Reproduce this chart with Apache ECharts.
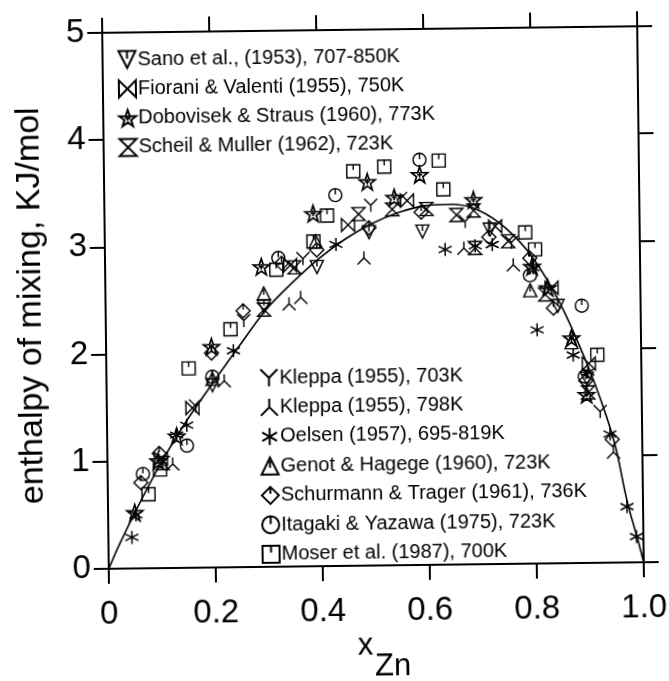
<!DOCTYPE html>
<html>
<head>
<meta charset="utf-8">
<title>Enthalpy of mixing</title>
<script src="https://cdn.jsdelivr.net/npm/echarts@6/dist/echarts.min.js"></script>
<style>
  html, body { margin: 0; padding: 0; background: #fff; }
  #chart { width: 669px; height: 681px; transform: rotate(-0.7deg); }
</style>
</head>
<body>
<div id="chart"></div>
<script>
// Axis ticks
const xTicks = [0, 0.2, 0.4, 0.6, 0.8, 1.0];
const xTickLabels = ['0', '0.2', '0.4', '0.6', '0.8', '1.0'];
const yTickLabels = ['0', '1', '2', '3', '4', '5'];

// Assessed curve [x_Zn, kJ/mol]
const curve = [
  [0, 0], [0.02, 0.22], [0.05, 0.52], [0.1, 0.98], [0.15, 1.38], [0.2, 1.73],
  [0.25, 2.07], [0.3, 2.4], [0.35, 2.65], [0.4, 2.87], [0.45, 3.05], [0.5, 3.19],
  [0.55, 3.29], [0.6, 3.35], [0.65, 3.36], [0.7, 3.3], [0.75, 3.13], [0.8, 2.85],
  [0.85, 2.42], [0.9, 1.84], [0.93, 1.42], [0.95, 1.08], [0.97, 0.58], [0.99, 0.2], [1.0, 0]
];

// Measurements, one array per source
const sano = [[0.198,1.70],[0.296,2.43],[0.396,2.79],[0.494,3.11],[0.594,3.11],[0.72,3.12],[0.845,2.40],[0.898,1.72]];
const fiorani = [[0.1,1.02],[0.16,1.49],[0.346,2.81],[0.455,3.18],[0.566,3.40],[0.73,3.15],[0.834,2.57],[0.902,1.86]];
const dobovisek = [[0.05,0.52],[0.095,1.0],[0.13,1.23],[0.197,2.06],[0.292,2.80],[0.39,3.29],[0.492,3.58],[0.542,3.43],[0.59,3.64],[0.69,3.40],[0.798,2.77],[0.827,2.57],[0.87,2.10],[0.897,1.57]];
const scheil = [[0.103,0.98],[0.296,2.40],[0.354,2.79],[0.475,3.28],[0.538,3.32],[0.602,3.32],[0.658,3.26],[0.69,3.30],[0.692,2.95],[0.754,3.01],[0.822,2.51],[0.9,1.59]];
const kleppa703 = [[0.166,1.51],[0.258,2.30],[0.37,2.87],[0.498,3.36],[0.554,3.42],[0.674,3.20],[0.76,3.0],[0.922,1.41]];
const kleppa798 = [[0.122,0.97],[0.22,1.74],[0.343,2.45],[0.365,2.51],[0.484,2.87],[0.671,2.95],[0.763,2.79],[0.946,1.03]];
const oelsen = [[0.044,0.29],[0.052,0.5],[0.13,1.24],[0.149,1.33],[0.238,2.02],[0.432,3.0],[0.636,2.94],[0.692,2.97],[0.724,2.98],[0.8,2.76],[0.806,2.18],[0.873,1.94],[0.9,1.78],[0.94,1.2],[0.97,0.52],[0.987,0.24]];
const genot = [[0.198,1.76],[0.296,2.55],[0.394,3.03],[0.794,2.55],[0.87,2.06]];
const schurmann = [[0.062,0.80],[0.097,1.07],[0.197,2.0],[0.257,2.39],[0.33,2.83],[0.396,2.95],[0.494,3.15],[0.592,3.29],[0.718,3.05],[0.794,2.85],[0.837,2.38],[0.896,1.70],[0.944,1.15]];
const itagaki = [[0.066,0.88],[0.149,1.14],[0.198,1.78],[0.324,2.88],[0.432,3.46],[0.59,3.78],[0.794,2.69],[0.89,2.40],[0.894,1.74]];
const moser = [[0.076,0.69],[0.098,0.92],[0.154,1.86],[0.233,2.22],[0.32,2.77],[0.39,3.03],[0.416,3.27],[0.466,3.68],[0.524,3.72],[0.626,3.77],[0.634,3.50],[0.786,3.09],[0.804,2.93],[0.918,1.94]];

// Open marker outlines
const SYM = {
  triDownTick: 'path://M0,0 L20,0 L10,20 Z M10,0 L10,9',
  bowtie: 'path://M0,0 L0,20 L20,0 L20,20 Z',
  star: 'path://M10,0 L12.35,6.76 L19.51,6.91 L13.8,11.24 L15.88,18.09 L10,14 L4.12,18.09 L6.2,11.24 L0.49,6.91 L7.65,6.76 Z M10,6 L10,12 M7,9 L13,9',
  hourglass: 'path://M0,0 L20,0 L0,20 L20,20 Z',
  yUp: 'path://M0,0 L10,10 L20,0 M10,10 L10,20',
  yDown: 'path://M10,0 L10,10 L0,20 M10,10 L20,20',
  asterisk: 'path://M10,0 L10,20 M1.34,5 L18.66,15 M1.34,15 L18.66,5',
  triUpTick: 'path://M10,0 L20,20 L0,20 Z M10,4 L10,12',
  diamondTick: 'path://M10,0 L20,10 L10,20 L0,10 Z M10,0 L10,8',
  circleTick: 'path://M10,0 A10,10 0 1 1 10,20 A10,10 0 1 1 10,0 Z M10,0 L10,9',
  squareTick: 'path://M0,0 L20,0 L20,20 L0,20 Z M10,0 L10,8'
};

const sources = [
  { name: 'Sano et al., (1953), 707-850K', data: sano, symbol: SYM.triDownTick, size: 13, bw: 1.4 },
  { name: 'Fiorani & Valenti (1955), 750K', data: fiorani, symbol: SYM.bowtie, size: 13, bw: 1.4 },
  { name: 'Dobovisek & Straus (1960), 773K', data: dobovisek, symbol: SYM.star, size: 16, bw: 1.7 },
  { name: 'Scheil & Muller (1962), 723K', data: scheil, symbol: SYM.hourglass, size: 13, bw: 1.4 },
  { name: 'Kleppa (1955), 703K', data: kleppa703, symbol: SYM.yUp, size: 13, bw: 1.4 },
  { name: 'Kleppa (1955), 798K', data: kleppa798, symbol: SYM.yDown, size: 13, bw: 1.4 },
  { name: 'Oelsen (1957), 695-819K', data: oelsen, symbol: SYM.asterisk, size: 13, bw: 1.5 },
  { name: 'Genot & Hagege (1960), 723K', data: genot, symbol: SYM.triUpTick, size: 13, bw: 1.4 },
  { name: 'Schurmann & Trager (1961), 736K', data: schurmann, symbol: SYM.diamondTick, size: 14, bw: 1.4 },
  { name: 'Itagaki & Yazawa (1975), 723K', data: itagaki, symbol: SYM.circleTick, size: 13, bw: 1.4 },
  { name: 'Moser et al. (1987), 700K', data: moser, symbol: SYM.squareTick, size: 13, bw: 1.4 }
];

const FONT = '"Liberation Sans", Arial, Helvetica, sans-serif';
const BLACK = '#000';

const scatterSeries = sources.map(s => ({
  type: 'scatter',
  name: s.name,
  data: s.data,
  symbol: s.symbol,
  symbolSize: s.size,
  itemStyle: { color: 'rgba(0,0,0,0)', borderColor: BLACK, borderWidth: s.bw, opacity: 1 },
  emphasis: { disabled: true },
  z: 3
}));

const axisLine = { show: true, onZero: false, lineStyle: { color: BLACK, width: 2 } };
const tick = { show: true, inside: false, length: 15, lineStyle: { color: BLACK, width: 2 } };

const legendCommon = {
  orient: 'vertical',
  selectedMode: false,
  padding: 0,
  itemWidth: 17,
  itemHeight: 17,
  itemGap: 9,
  textStyle: { color: BLACK, fontFamily: FONT, fontSize: 20, lineHeight: 17, padding: [0, 0, 0, -3] },
  itemStyle: { opacity: 1 }
};

const option = {
  backgroundColor: '#fff',
  animation: false,
  textStyle: { fontFamily: FONT },
  grid: { left: 106, right: 28, top: 30, bottom: 115 },
  legend: [
    Object.assign({}, legendCommon, {
      left: 121, top: 47, itemGap: 9.3,
      data: sources.slice(0, 4).map(s => s.name)
    }),
    Object.assign({}, legendCommon, {
      left: 259, top: 367, itemGap: 9.4,
      data: sources.slice(4).map(s => s.name)
    })
  ],
  xAxis: [
    {
      type: 'value', position: 'bottom', min: 0, max: 1, interval: 0.2,
      axisLine: axisLine,
      axisTick: tick,
      axisLabel: {
        color: BLACK, fontFamily: FONT, fontSize: 33, margin: 29,
        formatter: v => xTickLabels[xTicks.findIndex(t => Math.abs(t - v) < 1e-9)]
      },
      splitLine: { show: false }
    },
    {
      type: 'value', position: 'top', min: 0, max: 1, interval: 0.2,
      axisLine: axisLine,
      axisTick: tick,
      axisLabel: { show: false },
      splitLine: { show: false }
    }
  ],
  yAxis: [
    {
      type: 'value', position: 'left', min: 0, max: 5, interval: 1,
      name: 'enthalpy of mixing, KJ/mol',
      nameLocation: 'middle',
      nameGap: 57,
      nameTextStyle: { color: BLACK, fontFamily: FONT, fontSize: 34, padding: [0, 8, 0, 0] },
      axisLine: axisLine,
      axisTick: tick,
      axisLabel: {
        color: BLACK, fontFamily: FONT, fontSize: 33, margin: 18,
        formatter: v => yTickLabels[Math.round(v)]
      },
      splitLine: { show: false }
    },
    {
      type: 'value', position: 'right', min: 0, max: 5, interval: 1,
      axisLine: axisLine,
      axisTick: tick,
      axisLabel: { show: false },
      splitLine: { show: false }
    }
  ],
  graphic: [
    { type: 'text', left: 354, top: 631, style: { text: 'x', fontFamily: FONT, fontSize: 31, fill: BLACK } },
    { type: 'text', left: 371, top: 652, style: { text: 'Zn', fontFamily: FONT, fontSize: 31, fill: BLACK } }
  ],
  series: [
    {
      type: 'line',
      name: 'assessed',
      data: curve,
      smooth: 0.35,
      symbol: 'none',
      lineStyle: { color: BLACK, width: 1.6 },
      emphasis: { disabled: true },
      z: 2
    }
  ].concat(scatterSeries)
};

const chart = echarts.init(document.getElementById('chart'), null, { renderer: 'canvas' });
chart.setOption(option);
</script>
</body>
</html>
